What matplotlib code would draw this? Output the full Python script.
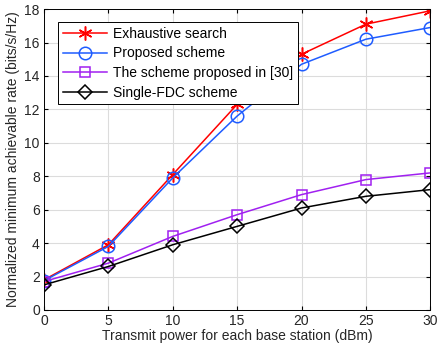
import matplotlib
matplotlib.use("Agg")
import matplotlib.pyplot as plt

plt.rcParams['font.family'] = ['Liberation Sans', 'DejaVu Sans']

# Transmit power (dBm)
power = [0, 5, 10, 15, 20, 25, 30]

# Normalized minimum achievable rate (bits/s/Hz)
exhaustive = [1.8, 3.9, 8.1, 12.3, 15.3, 17.1, 17.9]
proposed = [1.75, 3.8, 7.9, 11.6, 14.7, 16.2, 16.9]
scheme30 = [1.7, 2.8, 4.4, 5.7, 6.9, 7.8, 8.2]
single_fdc = [1.5, 2.6, 3.9, 5.0, 6.1, 6.8, 7.2]

fig = plt.figure(figsize=(4.42, 3.51), dpi=100)
ax = fig.add_axes([0.0995, 0.117, 0.874, 0.857])

ax.plot(power, exhaustive, color='#ff0000', marker=(6, 2, 0), markersize=10,
        markeredgewidth=1.1, linewidth=1.1, label='Exhaustive search')
ax.plot(power, proposed, color='#1f5cff', marker='o', markersize=9,
        markerfacecolor='none', markeredgewidth=1.1, linewidth=1.1, label='Proposed scheme')
ax.plot(power, scheme30, color='#a020f0', marker='s', markersize=7.5,
        markerfacecolor='none', markeredgewidth=1.1, linewidth=1.1,
        label='The scheme proposed in [30]')
ax.plot(power, single_fdc, color='black', marker='D', markersize=7.5,
        markerfacecolor='none', markeredgewidth=1.1, linewidth=1.1,
        label='Single-FDC scheme')

ax.set_xlim(0, 30)
ax.set_ylim(0, 18)
ax.set_xticks(range(0, 31, 5))
ax.set_yticks(range(0, 19, 2))
ax.tick_params(direction='in', labelsize=10, length=3, top=True, right=True, pad=3,
               labelcolor='#262626')
ax.grid(True, color='#dcdcdc', linewidth=0.8)
ax.set_axisbelow(True)
for s in ax.spines.values():
    s.set_linewidth(0.7)

ax.set_xlabel('Transmit power for each base station (dBm)', fontsize=10, labelpad=1,
              color='#262626')
ax.set_ylabel('Normalized minimum achievable rate (bits/s/Hz)', fontsize=10, labelpad=3,
              color='#262626')

leg = ax.legend(loc='upper left', bbox_to_anchor=(0.036, 0.957), fontsize=10,
                fancybox=False, framealpha=1, edgecolor='black',
                handlelength=3.2, borderpad=0.35, labelspacing=0.4, handletextpad=0.4,
                borderaxespad=0)
leg.get_frame().set_linewidth(0.7)

plt.savefig("out.png", dpi=100)
